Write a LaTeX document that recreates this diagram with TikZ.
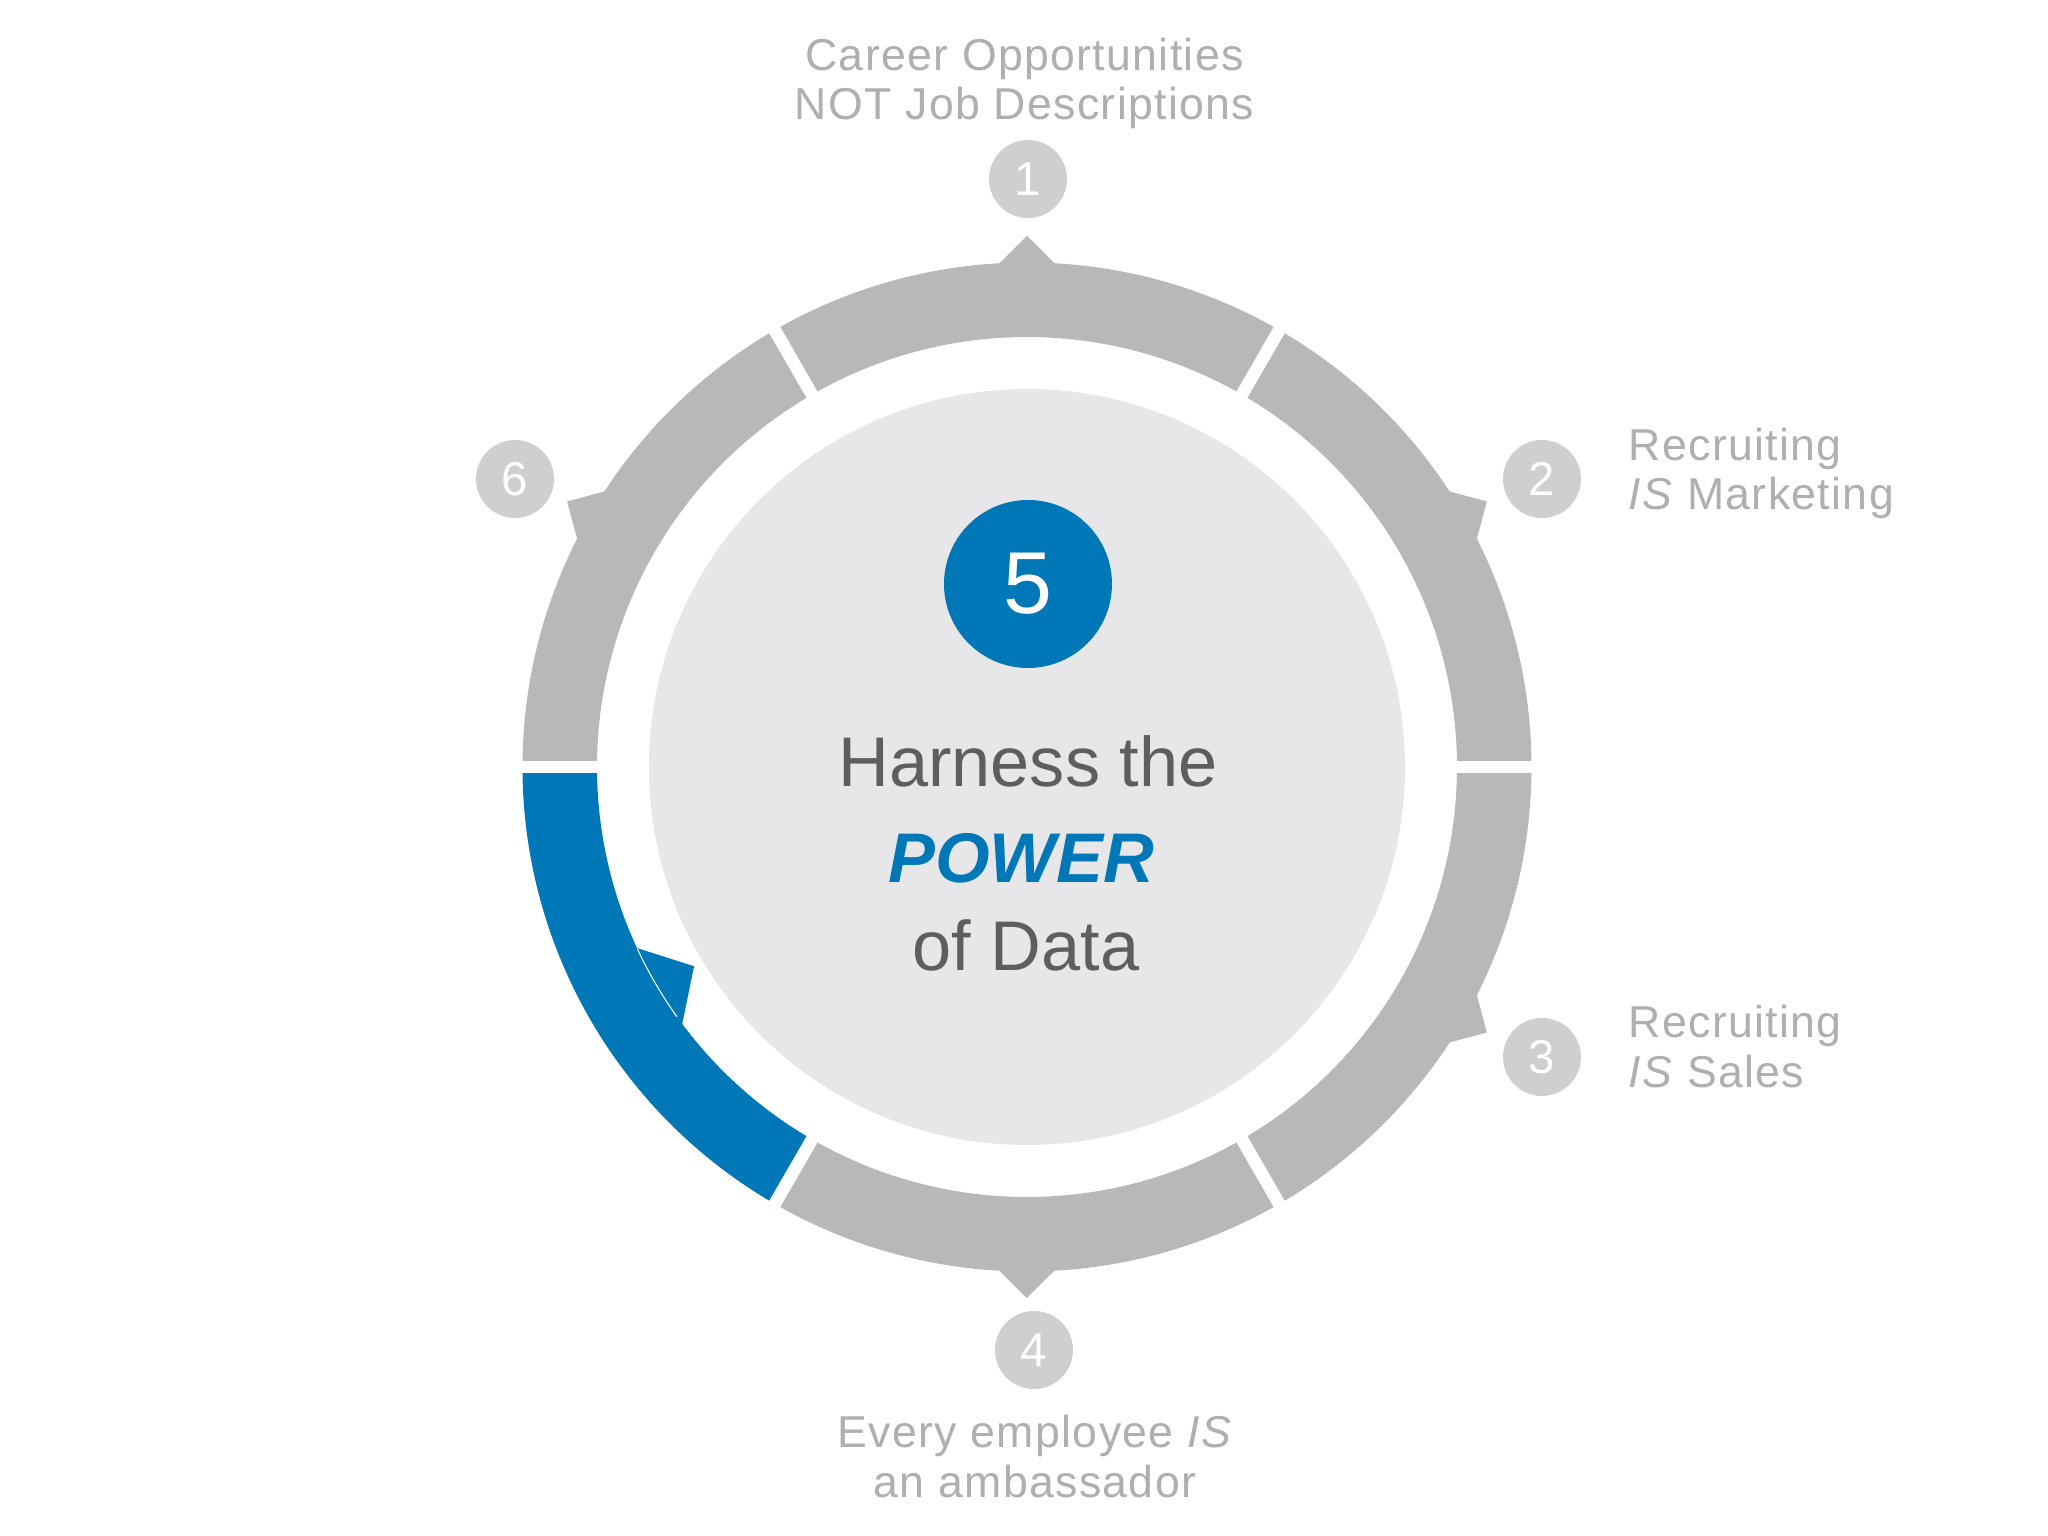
\documentclass[tikz,border=0pt]{standalone}
\usepackage{fontspec}
\setmainfont{Liberation Sans}
\newfontfamily\sidefont[LetterSpace=3]{Liberation Sans}
\usetikzlibrary{positioning}

\definecolor{ringgrey}{HTML}{B8B8BA}
\definecolor{dotgrey}{HTML}{CFCFD1}
\definecolor{labelgrey}{HTML}{AFAFB2}
\definecolor{coregrey}{HTML}{E7E7E9}
\definecolor{darktext}{HTML}{5E5E60}
\definecolor{powerblue}{HTML}{0078B8}

\tikzset{
  numdot/.style={circle, fill=dotgrey, minimum size=0.78cm, inner sep=0pt,
    text=white, font=\fontsize{13.5}{13.5}\selectfont},
  sidetext/.style={anchor=base, inner sep=0pt, text=labelgrey,
    font=\sidefont\fontsize{12.7}{14}\selectfont},
  sidetextl/.style={sidetext, anchor=base west},
  coretext/.style={anchor=base, inner sep=0pt, text=darktext,
    font=\fontsize{20}{23}\selectfont},
}

\begin{document}
\begin{tikzpicture}

\fill[white] (-10.27,-7.69) rectangle (10.21,7.67);
\useasboundingbox (-10.27,-7.69) rectangle (10.21,7.67);

\node[circle, fill=coregrey, minimum size=7.56cm, inner sep=0pt] (core) at (0,0) {};

% grey steps, notch outwards
\foreach \m in {90,30,-30,-90,150}
  \fill[ringgrey] ({\m-30}:5.045) arc[start angle={\m-30}, end angle={\m-3.1}, radius=5.045]
  -- (\m:5.31) -- ({\m+3.1}:5.045)
  arc[start angle={\m+3.1}, end angle={\m+30}, radius=5.045]
  -- ({\m+30}:4.30) arc[start angle={\m+30}, end angle={\m-30}, radius=4.30] -- cycle;

% step 5, notch inwards
\fill[powerblue] (180:5.045) arc[start angle=180, end angle=240, radius=5.045]
  -- (240:4.30) arc[start angle=240, end angle=216.7, radius=4.30]
  -- (210.9:3.88) -- (204.9:4.30)
  arc[start angle=204.9, end angle=180, radius=4.30] -- cycle;
\draw[white, line width=0.3pt] (205:4.30) arc[start angle=205, end angle=215.5, radius=4.30];

\foreach \a in {0,60,...,300}
  \draw[white, line width=0.126cm] (\a:4.1) -- (\a:5.6);

\node[numdot] (N1) at (0.01,5.88) {1};
\node[numdot] (N2) at (5.15,2.88) {2};
\node[numdot] (N3) at (5.15,-2.90) {3};
\node[numdot] (N4) at (0.07,-5.83) {4};
\node[numdot] (N6) at (-5.12,2.88) {6};

\node[sidetext] (T1-1) at (-0.025,6.963) {Career Opportunities};
\node[sidetext] (T1-2) at (-0.025,6.47) {NOT Job Descriptions};
\node[sidetextl] (T2-1) at (6.01,3.06) {Recruiting};
\node[sidetextl] (T2-2) at (6.01,2.57) {\textit{IS} Marketing};
\node[sidetextl] (T3-1) at (6.01,-2.71) {Recruiting};
\node[sidetextl] (T3-2) at (6.01,-3.21) {\textit{IS} Sales};
\node[sidetext] (T4-1) at (0.08,-6.81) {Every employee \textit{IS}};
\node[sidetext] (T4-2) at (0.08,-7.31) {an ambassador};

\node[circle, fill=powerblue, minimum size=1.68cm, inner sep=0pt, text=white,
  font=\fontsize{25}{25}\selectfont] (N5) at (0.01,1.83) {5};
\node[coretext] (H-1) at (0.01,-0.20) {Harness the};
\node[coretext, text=powerblue, font=\fontsize{20}{23}\selectfont\bfseries\itshape]
  (H-2) at (-0.06,-1.16) {POWER};
\node[coretext] (H-3) at (-0.01,-2.04) {of Data};

\end{tikzpicture}
\end{document}
